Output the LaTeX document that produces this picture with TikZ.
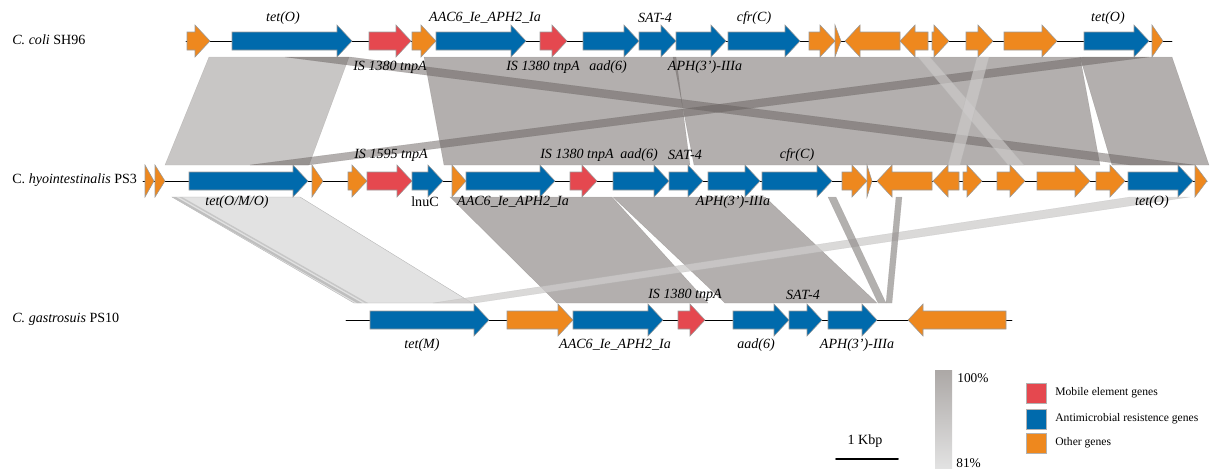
\documentclass[tikz,border=0pt]{standalone}
\usepackage{fontspec}
\setmainfont{Liberation Serif}
\usepackage{tikz}
\usetikzlibrary{positioning}

\definecolor{mobred}{RGB}{229,72,79}
\definecolor{amrblue}{RGB}{0,106,172}
\definecolor{othorange}{RGB}{238,136,30}
\definecolor{hitgray}{RGB}{103,96,94}
\definecolor{lowgray}{RGB}{146,142,140}
\definecolor{palegray}{RGB}{226,226,226}
\definecolor{stripgray}{RGB}{206,204,203}
\definecolor{bartop}{RGB}{172,168,166}
\definecolor{barbottom}{RGB}{226,226,226}

\tikzset{
  gene/.style={draw=black!40, line width=0.3pt, line join=miter},
  genelabel/.style={font=\fontsize{8}{9}\selectfont\itshape, inner sep=0pt},
  plainlabel/.style={font=\fontsize{8}{9}\selectfont, inner sep=0pt},
  legendlabel/.style={font=\fontsize{6.6}{8}\selectfont, inner sep=0pt, anchor=west},
  hit/.style={fill=hitgray, fill opacity=0.5, draw=hitgray, draw opacity=0.3, line width=0.2pt},
  lowhit/.style={fill=lowgray, fill opacity=0.5, draw=lowgray, draw opacity=0.4, line width=0.2pt},
  palehit/.style={fill=stripgray, fill opacity=0.65, draw=black!30, draw opacity=0.4, line width=0.2pt},
  legendbox/.style={draw=black!30, line width=0.3pt}
}

% forward gene: start, end, track y, colour
\newcommand{\genefw}[4]{%
  \pgfmathsetmacro{\hx}{max(#1,#2-15)}%
  \draw[gene,fill=#4] (#1,#3-9) -- (\hx,#3-9) -- (\hx,#3-16) -- (#2,#3) -- (\hx,#3+16) -- (\hx,#3+9) -- (#1,#3+9) -- cycle;}
% reverse gene: tip, end, track y, colour
\newcommand{\generv}[4]{%
  \pgfmathsetmacro{\hx}{min(#1+15,#2)}%
  \draw[gene,fill=#4] (#2,#3-9) -- (\hx,#3-9) -- (\hx,#3-16) -- (#1,#3) -- (\hx,#3+16) -- (\hx,#3+9) -- (#2,#3+9) -- cycle;}

\begin{document}
\begin{tikzpicture}[x=0.02cm, y=-0.02cm, line cap=round]
  \useasboundingbox (0,0) rectangle (1211,468);

  % coli vs hyointestinalis
  \fill[lowhit] (209,57) -- (349,57) -- (309,165) -- (165,165) -- cycle;
  \fill[hit] (424,57) -- (676,57) -- (690,165) -- (444,165) -- cycle;
  \fill[hit] (673,57) -- (1080,57) -- (1100,165) -- (694,165) -- cycle;
  \fill[hit] (1080,57) -- (1172,57) -- (1209,165) -- (1112,165) -- cycle;
  \fill[hit] (285,57) -- (350,57) -- (1195,165) -- (1130,165) -- cycle;
  \fill[hit] (1084,57) -- (1149,57) -- (308,165) -- (250,165) -- cycle;
  \fill[palehit] (918,57) -- (930,57) -- (1024,165) -- (1008,165) -- cycle;
  \fill[palehit] (977,57) -- (989,57) -- (960,165) -- (948,165) -- cycle;

  % hyointestinalis vs gastrosuis
  \fill[fill=palegray, draw=black!30, line width=0.2pt] (172,197) -- (300,197) -- (472,303) -- (354,303) -- cycle;
  \fill[fill=black!25] (172,197) -- (176,197) -- (362,303) -- (357,303) -- cycle;
  \fill[fill=black!22] (179,197) -- (182,197) -- (368,303) -- (365,303) -- cycle;
  \fill[hit] (450,197) -- (612,197) -- (708,303) -- (557,303) -- cycle;
  \fill[hit] (613,197) -- (765,197) -- (877,303) -- (725,303) -- cycle;
  \fill[palehit, fill opacity=0.75] (433,303) -- (475,303) -- (1190,197) -- (1130,197) -- cycle;
  \fill[lowhit, fill opacity=0.7] (828,197) -- (836,197) -- (886,303) -- (878,303) -- cycle;
  \fill[lowhit, fill opacity=0.7] (896,197) -- (902,197) -- (892,303) -- (886,303) -- cycle;

  % backbones
  \draw [line width=0.5pt] (186,41) -- (1172,41);
  \draw [line width=0.5pt] (143,181) -- (1207,181);
  \draw [line width=0.5pt] (346,320) -- (1012,320);

  % C. coli SH96
  \genefw{187}{210}{41}{othorange}
  \genefw{232}{352}{41}{amrblue}
  \genefw{369}{411}{41}{mobred}
  \genefw{412}{436}{41}{othorange}
  \genefw{436}{526}{41}{amrblue}
  \genefw{540}{567}{41}{mobred}
  \genefw{583}{639}{41}{amrblue}
  \genefw{639}{676}{41}{amrblue}
  \genefw{676}{726}{41}{amrblue}
  \genefw{728}{800}{41}{amrblue}
  \genefw{809}{835}{41}{othorange}
  \genefw{835}{841}{41}{othorange}
  \generv{845}{900}{41}{othorange}
  \generv{900}{928}{41}{othorange}
  \genefw{932}{949}{41}{othorange}
  \genefw{966}{993}{41}{othorange}
  \genefw{1004}{1057}{41}{othorange}
  \genefw{1084}{1149}{41}{amrblue}
  \genefw{1152}{1163}{41}{othorange}

  % C. hyointestinalis PS3
  \genefw{145}{154}{181}{othorange}
  \genefw{155}{165}{181}{othorange}
  \genefw{189}{308}{181}{amrblue}
  \genefw{312}{323}{181}{othorange}
  \genefw{348}{367}{181}{othorange}
  \genefw{367}{412}{181}{mobred}
  \genefw{412}{443}{181}{amrblue}
  \genefw{452}{466}{181}{othorange}
  \genefw{466}{555}{181}{amrblue}
  \genefw{570}{597}{181}{mobred}
  \genefw{613}{669}{181}{amrblue}
  \genefw{669}{703}{181}{amrblue}
  \genefw{708}{760}{181}{amrblue}
  \genefw{762}{832}{181}{amrblue}
  \genefw{842}{867}{181}{othorange}
  \genefw{867}{872}{181}{othorange}
  \generv{877}{932}{181}{othorange}
  \generv{933}{959}{181}{othorange}
  \genefw{963}{982}{181}{othorange}
  \genefw{997}{1025}{181}{othorange}
  \genefw{1037}{1090}{181}{othorange}
  \genefw{1096}{1125}{181}{othorange}
  \genefw{1128}{1193}{181}{amrblue}
  \genefw{1195}{1207}{181}{othorange}

  % C. gastrosuis PS10
  \genefw{370}{489}{320}{amrblue}
  \genefw{507}{573}{320}{othorange}
  \genefw{573}{663}{320}{amrblue}
  \genefw{678}{705}{320}{mobred}
  \genefw{733}{789}{320}{amrblue}
  \genefw{789}{822}{320}{amrblue}
  \genefw{828}{877}{320}{amrblue}
  \generv{908}{1006}{320}{othorange}

  % strain names
  \draw (12,40) node[plainlabel, anchor=west] (coli) {\textit{C. coli} SH96};
  \draw (12,180) node[plainlabel, anchor=west] (hyo) {C. \textit{hyointestinalis} PS3};
  \draw (12,319) node[plainlabel, anchor=west] (gas) {\textit{C. gastrosuis} PS10};

  % gene names, C. coli
  \draw (283,18) node[genelabel] (coliTetA) {tet(O)};
  \draw (485,18) node[genelabel] (coliAac) {AAC6\_Ie\_APH2\_Ia};
  \draw (655,18) node[genelabel] (coliSat) {SAT-4};
  \draw (754,18) node[genelabel] (coliCfr) {cfr(C)};
  \draw (1108,18) node[genelabel] (coliTetB) {tet(O)};
  \draw (390,67) node[genelabel] (coliIsA) {IS 1380 tnpA};
  \draw (543,67) node[genelabel] (coliIsB) {IS 1380 tnpA};
  \draw (608,67) node[genelabel] (coliAad) {aad(6)};
  \draw (705,67) node[genelabel] (coliAph) {APH(3')-IIIa};

  % gene names, C. hyointestinalis
  \draw (391,155) node[genelabel] (hyoIsA) {IS 1595 tnpA};
  \draw (577,155) node[genelabel] (hyoIsB) {IS 1380 tnpA};
  \draw (639,155) node[genelabel] (hyoAad) {aad(6)};
  \draw (685,155) node[genelabel] (hyoSat) {SAT-4};
  \draw (797,155) node[genelabel] (hyoCfr) {cfr(C)};
  \draw (237,202) node[genelabel] (hyoTetA) {tet(O/M/O)};
  \draw (425,202) node[plainlabel] (hyoLnu) {lnuC};
  \draw (513,202) node[genelabel] (hyoAac) {AAC6\_Ie\_APH2\_Ia};
  \draw (733,202) node[genelabel] (hyoAph) {APH(3')-IIIa};
  \draw (1152,202) node[genelabel] (hyoTetB) {tet(O)};

  % gene names, C. gastrosuis
  \draw (685,295) node[genelabel] (gasIs) {IS 1380 tnpA};
  \draw (803,295) node[genelabel] (gasSat) {SAT-4};
  \draw (422,345) node[genelabel] (gasTet) {tet(M)};
  \draw (615,345) node[genelabel] (gasAac) {AAC6\_Ie\_APH2\_Ia};
  \draw (756,345) node[genelabel] (gasAad) {aad(6)};
  \draw (857,345) node[genelabel] (gasAph) {APH(3')-IIIa};

  % scale bar
  \draw [line width=1.1pt] (836,459) -- (898,459);
  \draw (865,441) node[plainlabel] (kbp) {1 Kbp};

  % identity bar
  \shade [top color=bartop, bottom color=barbottom] (935,370) rectangle (952,468);
  \draw (957,378) node[plainlabel, anchor=west, font=\fontsize{7.6}{9}\selectfont] (pctHigh) {100\%};
  \draw (956,458) node[plainlabel, anchor=north west, font=\fontsize{7.6}{9}\selectfont] (pctLow) {81\%};

  % legend
  \draw [legendbox, fill=mobred] (1026,383) rectangle (1046,403);
  \draw [legendbox, fill=amrblue] (1026,409) rectangle (1046,429);
  \draw [legendbox, fill=othorange] (1026,433) rectangle (1046,453);
  \draw (1055,393) node[legendlabel] (legMob) {Mobile element genes};
  \draw (1055,419) node[legendlabel] (legAmr) {Antimicrobial resistence genes};
  \draw (1055,443) node[legendlabel] (legOth) {Other genes};

\end{tikzpicture}
\end{document}
